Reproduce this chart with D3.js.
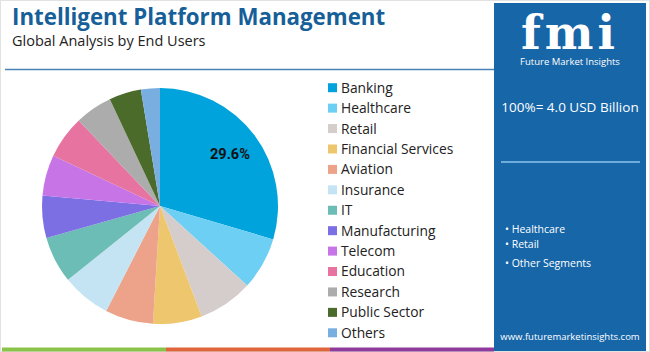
<!DOCTYPE html>
<html>
<head>
<meta charset="utf-8">
<script src="https://d3js.org/d3.v7.min.js"></script>
<style>
  body { margin: 0; background: #fff; }
  svg { display: block; font-family: 'Open Sans', sans-serif; }
</style>
</head>
<body>
<svg width="650" height="352"></svg>
<script>
// data
const categories = ['Banking', 'Healthcare', 'Retail', 'Financial Services', 'Aviation', 'Insurance',
                    'IT', 'Manufacturing', 'Telecom', 'Education', 'Research', 'Public Sector', 'Others'];
const shares = [29.6, 7.2, 7.5, 6.7, 6.6, 6.7, 6.4, 5.8, 5.6, 5.9, 5.1, 4.4, 2.6];
const palette = ['#00a3dc', '#6dcff3', '#d5cdcb', '#eec66d', '#eca389', '#c5e4f3', '#6cbdb6',
                 '#7b6fe3', '#c774e7', '#e673a0', '#acacac', '#4b6b2b', '#79aee1'];
const topSegments = ['Healthcare', 'Retail', 'Other Segments'];
const totalLabel = '100%= 4.0 USD Billion';

const svg = d3.select('svg');

// outer frame
svg.append('rect').attr('x', 0.5).attr('y', 0.5).attr('width', 649).attr('height', 351)
   .attr('fill', '#fff').attr('stroke', '#e2e2e2');

// title block
svg.append('text').attr('x', 12).attr('y', 25)
   .attr('font-size', 22.3).attr('font-weight', 700).attr('fill', '#175f98')
   .text('Intelligent Platform Management');
svg.append('text').attr('x', 12).attr('y', 45.5)
   .attr('font-size', 14.5).attr('fill', '#222')
   .text('Global Analysis by End Users');
svg.append('line').attr('x1', 5).attr('x2', 494).attr('y1', 69.5).attr('y2', 69.5)
   .attr('stroke', '#4a82b8').attr('stroke-width', 1.6);

// pie
const color = d3.scaleOrdinal().domain(categories).range(palette);
const pie = d3.pie().sort(null).value(d => d.v);
const arcs = pie(categories.map((c, i) => ({c: c, v: shares[i]})));
const r = 118;
const arc = d3.arc().innerRadius(0).outerRadius(r);
const g = svg.append('g').attr('transform', 'translate(160,206)');
g.selectAll('path').data(arcs).join('path')
   .attr('d', arc).attr('fill', d => color(d.data.c));
const lab = d3.arc().innerRadius(r * 0.74).outerRadius(r * 0.74);
g.append('text').datum(arcs[0])
   .attr('transform', d => 'translate(' + lab.centroid(d) + ')')
   .attr('text-anchor', 'middle').attr('dy', '0.35em')
   .attr('font-family', 'Roboto, sans-serif').attr('font-weight', 700).attr('font-size', 14.5)
   .attr('fill', '#111')
   .text(d3.format('.1f')(shares[0]) + '%');

// legend
const ly = d3.scaleBand().domain(categories).range([77.5, 343]);
const leg = svg.append('g').selectAll('g').data(categories).join('g')
   .attr('transform', d => 'translate(328,' + (ly(d) + ly.bandwidth() / 2) + ')');
leg.append('rect').attr('x', 0).attr('y', -4.5).attr('width', 9).attr('height', 9)
   .attr('fill', d => color(d));
leg.append('text').attr('x', 13).attr('dy', '0.36em')
   .attr('font-size', 13.8).attr('fill', '#222').text(d => d);

// right panel
const px = 494, pw = 152;
svg.append('rect').attr('x', px).attr('y', 3).attr('width', pw).attr('height', 348).attr('fill', '#1766a8');
const cx = px + pw / 2;
svg.append('text').attr('x', cx).attr('y', 49).attr('text-anchor', 'middle')
   .attr('font-family', 'DejaVu Serif, serif').attr('font-weight', 700).attr('font-size', 46)
   .attr('fill', '#fff').attr('letter-spacing', 4).text('fmi');
svg.append('text').attr('x', cx).attr('y', 64.5).attr('text-anchor', 'middle')
   .attr('font-size', 9.5).attr('fill', '#fff').text('Future Market Insights');
svg.append('text').attr('x', cx).attr('y', 112).attr('text-anchor', 'middle')
   .attr('font-size', 13.5).attr('fill', '#fff').text(totalLabel);
svg.append('line').attr('x1', px + 7).attr('x2', px + 146).attr('y1', 162).attr('y2', 162)
   .attr('stroke', '#8cc4ec').attr('stroke-width', 1.5);
const by = d3.scalePoint().domain(topSegments).range([229, 260]);
svg.append('g').selectAll('text').data(topSegments).join('text')
   .attr('x', 505).attr('y', d => by(d) + (d === 'Other Segments' ? 3 : 0)).attr('dy', '0.35em')
   .attr('font-size', 10.5).attr('fill', '#fff').text(d => '\u2022 ' + d);
svg.append('text').attr('x', cx).attr('y', 340).attr('text-anchor', 'middle')
   .attr('font-size', 9.5).attr('fill', '#fff').text('www.futuremarketinsights.com');

// bottom colour strip
const strip = ['#8bc34a', '#e0653a', '#8e3b9b'];
const sx = d3.scaleBand().domain(d3.range(strip.length)).range([2, px]);
svg.append('g').selectAll('rect').data(strip).join('rect')
   .attr('x', (d, i) => sx(i)).attr('y', 347.5).attr('width', sx.bandwidth()).attr('height', 4)
   .attr('fill', d => d);
</script>
</body>
</html>
